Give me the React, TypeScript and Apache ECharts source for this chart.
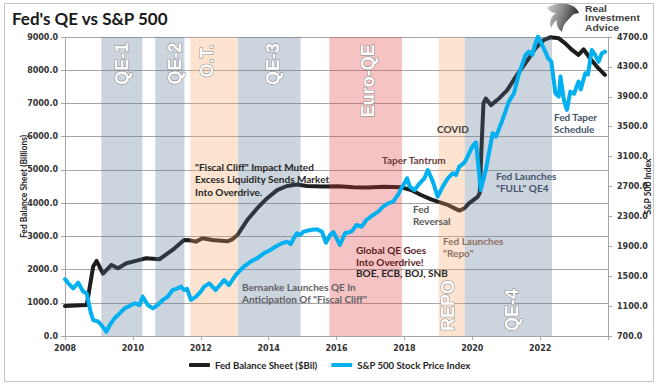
import React, { useEffect, useRef } from "react";
import * as echarts from "echarts";

// Fed balance sheet ($bil) — [decimal year, value]
const fedSeries: [number, number][] = [
  [2008.0, 900], [2008.64, 930], [2008.73, 1480], [2008.83, 2090], [2008.93, 2260],
  [2009.12, 1880], [2009.37, 2140], [2009.56, 2040], [2009.81, 2190], [2010.2, 2290],
  [2010.39, 2340], [2010.78, 2310], [2011.17, 2590], [2011.51, 2890], [2011.66, 2880],
  [2011.86, 2840], [2012.05, 2940], [2012.34, 2890], [2012.78, 2850], [2012.93, 2910],
  [2013.08, 3040], [2013.37, 3490], [2013.66, 3840], [2013.95, 4140], [2014.25, 4390],
  [2014.54, 4515], [2014.83, 4560], [2015.13, 4515], [2015.6, 4500], [2016.05, 4510],
  [2016.5, 4480], [2016.93, 4470], [2017.4, 4490], [2017.91, 4475], [2018.2, 4395],
  [2018.49, 4245], [2018.79, 4115], [2018.98, 4045], [2019.28, 3945], [2019.62, 3775],
  [2019.77, 3845], [2019.91, 4000], [2020.16, 4190], [2020.22, 4300], [2020.27, 5600],
  [2020.33, 7000], [2020.4, 7150], [2020.55, 6950], [2020.79, 7150], [2021.03, 7400],
  [2021.28, 7800], [2021.52, 8150], [2021.67, 8360], [2021.86, 8660], [2022.11, 8910],
  [2022.3, 8990], [2022.55, 8960], [2022.74, 8810], [2022.94, 8610], [2023.13, 8460],
  [2023.28, 8630], [2023.47, 8360], [2023.67, 8110], [2023.91, 7860],
];

// S&P 500 index — [decimal year, value]
const spxSeries: [number, number][] = [
  [2008.0, 1460], [2008.1, 1405], [2008.24, 1338], [2008.39, 1413], [2008.54, 1293],
  [2008.64, 1271], [2008.75, 1030], [2008.83, 914], [2008.98, 891], [2009.07, 847],
  [2009.22, 758], [2009.32, 847], [2009.46, 937], [2009.61, 1003], [2009.76, 1070],
  [2009.9, 1101], [2010.05, 1137], [2010.2, 1115], [2010.29, 1226], [2010.44, 1115],
  [2010.59, 1070], [2010.73, 1115], [2010.88, 1182], [2011.03, 1226], [2011.17, 1315],
  [2011.32, 1338], [2011.42, 1360], [2011.51, 1315], [2011.6, 1330], [2011.71, 1182],
  [2011.86, 1226], [2012.0, 1293], [2012.1, 1360], [2012.25, 1405], [2012.44, 1315],
  [2012.69, 1449], [2012.83, 1382], [2013.03, 1516], [2013.27, 1628], [2013.47, 1695],
  [2013.66, 1740], [2013.86, 1806], [2014.05, 1851], [2014.2, 1895], [2014.39, 1940],
  [2014.54, 1962], [2014.65, 1930], [2014.74, 2007], [2014.83, 2074], [2014.93, 2051],
  [2015.03, 2096], [2015.23, 2118], [2015.42, 2128], [2015.57, 2096], [2015.69, 1948],
  [2015.81, 2051], [2015.91, 2090], [2016.1, 1918], [2016.25, 2074], [2016.44, 2096],
  [2016.59, 2185], [2016.74, 2163], [2016.88, 2252], [2017.08, 2319], [2017.23, 2363],
  [2017.37, 2430], [2017.52, 2475], [2017.67, 2497], [2017.81, 2587], [2017.91, 2676],
  [2018.01, 2751], [2018.08, 2810], [2018.16, 2698], [2018.3, 2653], [2018.45, 2743],
  [2018.59, 2810], [2018.69, 2921], [2018.84, 2765], [2018.98, 2564], [2019.13, 2698],
  [2019.28, 2810], [2019.42, 2877], [2019.52, 2854], [2019.62, 2966], [2019.77, 3020],
  [2019.86, 3100], [2020.01, 3240], [2020.11, 3290], [2020.25, 2653], [2020.4, 2921],
  [2020.6, 3412], [2020.7, 3367], [2020.89, 3590], [2021.08, 3835], [2021.23, 3947],
  [2021.38, 4215], [2021.57, 4460], [2021.67, 4504], [2021.77, 4460], [2021.86, 4616],
  [2021.94, 4705], [2022.06, 4594], [2022.24, 4415], [2022.33, 4370], [2022.45, 3947],
  [2022.55, 3902], [2022.6, 4170], [2022.7, 3858], [2022.79, 3724], [2022.89, 3969],
  [2023.0, 3940], [2023.13, 4103], [2023.2, 4000], [2023.33, 4215], [2023.41, 4200],
  [2023.52, 4527], [2023.62, 4460], [2023.72, 4370], [2023.82, 4482], [2023.91, 4504],
];

// Policy regimes (shaded bands)
const bandNames = ["QE-1", "QE-2", "O.T.", "QE-3", "Euro-QE", "REPO", "QE-4"];
const bandStarts = [2009.07, 2010.66, 2011.69, 2013.1, 2015.79, 2019.01, 2019.78];
const bandEnds = [2010.28, 2011.52, 2013.1, 2014.94, 2017.93, 2019.78, 2022.35];
const bandKinds = ["qe", "qe", "ot", "qe", "euro", "ot", "qe"];

const leftAxisName = "Fed Balance Sheet (Billions)";
const rightAxisName = "S&P 500 Index";
const fedName = "Fed Balance Sheet ($Bil)";
const spxName = "S&P 500 Stock Price Index";
const logoLines = ["Real", "Investment", "Advice"];

const LOGO_D =
  "M0 6 C6 1 18 0 26 4 C29 6 31 8 32 11 L27 12 C25 13 24 15 22 17 C19 20 16 23 15 30 C11 27 9 23 10 18 C7 20 5 23 4 26 C2 20 4 14 9 11 C6 11 3 10 0 6 Z";

// overlay colours at 30% opacity
const bandColor: Record<string, string> = {
  qe: "rgba(85,112,145,0.3)",
  ot: "rgba(248,165,98,0.3)",
  euro: "rgba(222,55,55,0.3)",
};

const FONT = "Lato";
const AXFONT = "DejaVu Sans";

export default function App() {
  const ref = useRef<HTMLDivElement>(null);

  useEffect(() => {
    if (!ref.current) return;
    try {
      echarts.graphic.registerShape("logo", echarts.graphic.extendPath(LOGO_D, {}));
    } catch (e) {}
    const chart = echarts.init(ref.current, null, { renderer: "svg" });

    const bandLabelPos: [number, number][] = [
      [121.7, 63.8], [175, 63.5], [206.7, 61], [272.5, 64], [368.3, 80.8], [448, 305.5], [512, 310],
    ];

    const txt = (
      text: string, x: number, y: number, color: string, lh = 12, size = 10
    ) => ({
      type: "text",
      x, y, z: 20,
      style: {
        text, fill: color, fontFamily: FONT, fontWeight: "bold", fontSize: size,
        lineHeight: lh, align: "left", verticalAlign: "top",
      },
    });

    const graphics: any[] = [
      {
        type: "rect", z: 0, silent: true,
        shape: { x: 4.5, y: 3.5, width: 649, height: 378 },
        style: { fill: "none", stroke: "#c4c4c4", lineWidth: 1 },
      },
      ...bandNames.map((n, i) => ({
        type: "text", z: 20,
        x: bandLabelPos[i][0], y: bandLabelPos[i][1], rotation: Math.PI / 2,
        style: {
          text: n, fill: "#ffffff", stroke: "#8a8a8a", lineWidth: 1.1,
          fontFamily: "Liberation Sans", fontWeight: "bold", fontSize: 18,
          align: "center", verticalAlign: "middle",
        },
      })),
      txt('"Fiscal Cliff" Impact Muted\nExcess Liquidity Sends Market\nInto Overdrive.', 195, 161, "#262626", 12.3),
      txt('Bernanke Launches QE In\nAnticipation Of "Fiscal Cliff"', 242, 281.3, "#5f5f66", 12),
      txt("Global QE Goes\nInto Overdrive!", 356, 244.2, "#5a1d1d", 11.7),
      txt("BOE, ECB, BOJ, SNB", 356, 267.6, "#262626", 11.7),
      txt("Taper Tantrum", 382, 154, "#6b3b3b"),
      txt("COVID", 437, 123.3, "#404040"),
      txt("Fed Taper\nSchedule", 554, 111.3, "#44546a"),
      txt('Fed Launches\n"FULL" QE4', 496, 169.7, "#44546a"),
      txt("Fed\nReversal", 413, 203, "#595959"),
      txt('Fed Launches\n"Repo"', 443, 234.7, "#8e7064"),
      {
        type: "logo", z: 20, x: 547, y: 2, scaleX: 1, scaleY: 1,
        style: {
          fill: new echarts.graphic.LinearGradient(0, 0, 1, 0.3, [
            { offset: 0, color: "#d0d0d0" },
            { offset: 0.5, color: "#8a8a8a" },
            { offset: 1, color: "#2e2e2e" },
          ]),
        },
      },
      ...logoLines.map((t, i) => ({
        type: "text", z: 20, x: 585, y: 3.8 + i * 9.4, scaleX: 1.12,
        style: {
          text: t, fill: "#3f3f3f", fontFamily: "Liberation Sans",
          fontWeight: "bold", fontSize: 9.3, lineHeight: 9.3, align: "left", verticalAlign: "top",
        },
      })),
    ];

    const option: any = {
      animation: false,
      backgroundColor: "#ffffff",
      title: {
        text: "Fed's QE vs S&P 500",
        left: 7, top: 5,
        textStyle: { fontFamily: FONT, fontWeight: "bold", fontSize: 17, color: "#1a1a1a" },
      },
      grid: { left: 65, right: 54, top: 37, bottom: 53, containLabel: false },
      legend: {
        bottom: 14, left: 184,
        itemWidth: 21, itemHeight: 4, itemGap: 14,
        icon: "roundRect",
        textStyle: { fontFamily: FONT, fontWeight: "bold", fontSize: 9.6, color: "#262626" },
        data: [fedName, spxName],
      },
      xAxis: {
        type: "value", min: 2008, max: 2024, interval: 2,
        axisLine: { show: true, lineStyle: { color: "#a6a6a6" } },
        axisTick: { show: true, length: 4, lineStyle: { color: "#a6a6a6" } },
        splitLine: { show: false },
        axisLabel: {
          margin: 8, fontFamily: AXFONT, fontWeight: "bold", fontSize: 8, color: "#333",
          formatter: (v: number) => (v >= 2024 ? "" : String(v)),
        },
      },
      yAxis: [
        {
          type: "value", min: 0, max: 9000, interval: 1000, position: "left",
          name: leftAxisName, nameLocation: "middle", nameGap: 37, nameRotate: 90,
          nameMoveOverlap: false,
          nameTextStyle: { fontFamily: FONT, fontWeight: "bold", fontSize: 8.5, color: "#262626" },
          axisLine: { show: true, lineStyle: { color: "#a6a6a6" } },
          axisTick: { show: true, length: 4, lineStyle: { color: "#a6a6a6" } },
          splitLine: { show: true, lineStyle: { color: "#a6a6a6", width: 1 } },
          axisLabel: {
            margin: 7, fontFamily: AXFONT, fontWeight: "bold", fontSize: 8, color: "#333",
            formatter: (v: number) => v.toFixed(1),
          },
        },
        {
          type: "value", min: 700, max: 4700, interval: 400, position: "right",
          name: rightAxisName, nameLocation: "middle", nameGap: 35, nameRotate: 90,
          nameMoveOverlap: false,
          nameTextStyle: { fontFamily: FONT, fontWeight: "bold", fontSize: 8.5, color: "#262626" },
          axisLine: { show: true, lineStyle: { color: "#a6a6a6" } },
          axisTick: { show: true, length: 4, lineStyle: { color: "#a6a6a6" } },
          splitLine: { show: false },
          axisLabel: {
            margin: 9, fontFamily: AXFONT, fontWeight: "bold", fontSize: 8, color: "#333",
            formatter: (v: number) => v.toFixed(1),
          },
        },
      ],
      series: [
        {
          name: fedName, type: "line", yAxisIndex: 0, z: 2,
          data: fedSeries, showSymbol: false, symbol: "none",
          lineStyle: { color: "#1e1e1e", width: 4, join: "round", cap: "round" },
          itemStyle: { color: "#1e1e1e" },
          markArea: {
            silent: true, z: 3,
            data: bandNames.map((_, i) => [
              { xAxis: bandStarts[i], itemStyle: { color: bandColor[bandKinds[i]] } },
              { xAxis: bandEnds[i] },
            ]),
          },
        },
        {
          name: spxName, type: "line", yAxisIndex: 1, z: 4,
          data: spxSeries, showSymbol: false, symbol: "none",
          lineStyle: { color: "#00b0f0", width: 4, join: "round", cap: "round" },
          itemStyle: { color: "#00b0f0" },
        },
      ],
      graphic: graphics,
    };

    chart.setOption(option);
    return () => chart.dispose();
  }, []);

  return (
    <div
      ref={ref}
      style={{ position: "absolute", left: 0, top: 0, width: 662, height: 389 }}
    />
  );
}
